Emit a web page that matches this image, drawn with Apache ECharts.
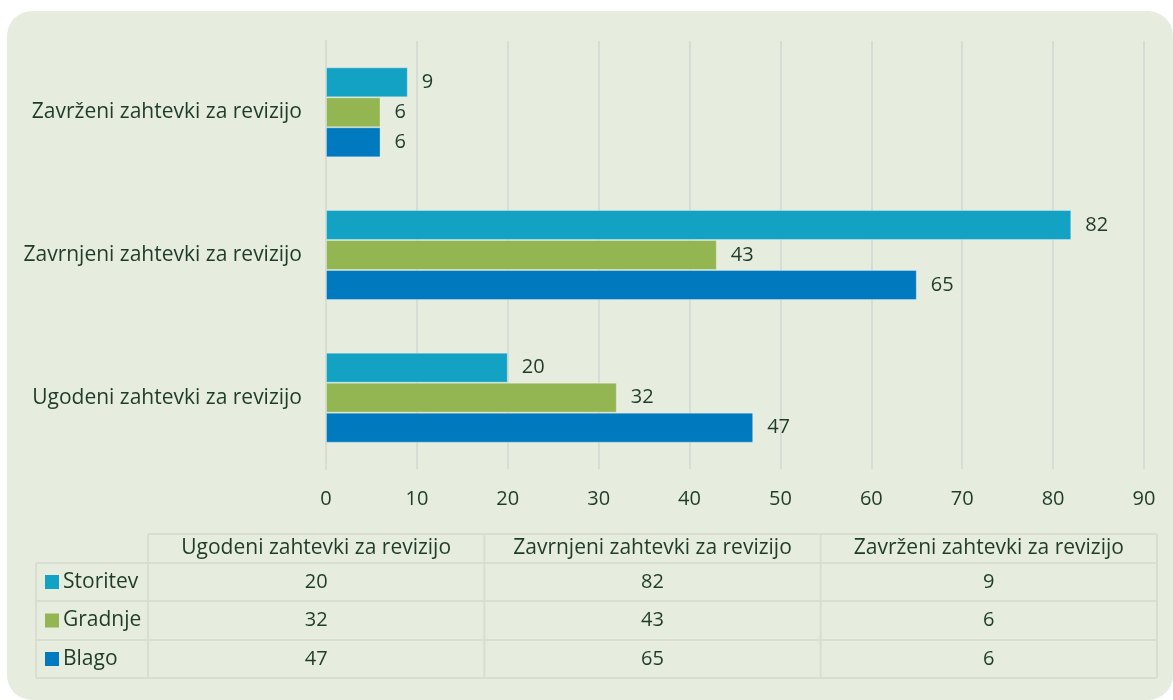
<!DOCTYPE html>
<html>
<head>
<meta charset="utf-8">
<script src="https://cdn.jsdelivr.net/npm/echarts@6/dist/echarts.min.js"></script>
<style>
html,body{margin:0;padding:0;background:#ffffff;}
#chart{width:1173px;height:700px;}
</style>
</head>
<body>
<div id="chart"></div>
<script>
// Data
var categories = ['Ugodeni zahtevki za revizijo', 'Zavrnjeni zahtevki za revizijo', 'Zavrženi zahtevki za revizijo'];
var seriesNames = ['Storitev', 'Gradnje', 'Blago'];
var storitev = [20, 82, 9];
var gradnje = [32, 43, 6];
var blago = [47, 65, 6];
var xTicks = [0, 10, 20, 30, 40, 50, 60, 70, 80, 90];

var colors = {Storitev: '#14a2c4', Gradnje: '#93b653', Blago: '#0179be'};
var textColor = '#1f3b2a';
var font = '"Open Sans", "Noto Sans", sans-serif';
var fsText = 21;
var fsNum = 20;
var values = {Storitev: storitev, Gradnje: gradnje, Blago: blago};

var chart = echarts.init(document.getElementById('chart'), null, {renderer: 'canvas'});

var series = seriesNames.map(function (name) {
  return {
    name: name,
    type: 'bar',
    data: values[name],
    barWidth: 30,
    barGap: '0%',
    itemStyle: {color: colors[name], borderColor: 'rgba(255,255,255,0.3)', borderWidth: 1},
    label: {show: true, position: 'right', distance: 14, color: textColor, fontSize: fsNum, fontFamily: font},
    z: 3
  };
});

// Table built from data arrays
var tableLeft = 148, tableRight = 1157, legendLeft = 36;
var rowYs = [534, 563, 601, 640, 678];
var colW = (tableRight - tableLeft) / categories.length;
var lineColor = '#d9ddd3';
var g = [];
g.push({type: 'rect', shape: {x: 7, y: 11, width: 1166, height: 689, r: 25}, style: {fill: '#e6ecde'}, z: -10});
g.push({type: 'line', shape: {x1: tableLeft, y1: rowYs[0], x2: tableRight, y2: rowYs[0]}, style: {stroke: lineColor, lineWidth: 2}});
for (var r = 1; r < rowYs.length; r++) {
  g.push({type: 'line', shape: {x1: legendLeft, y1: rowYs[r], x2: tableRight, y2: rowYs[r]}, style: {stroke: lineColor, lineWidth: 2}});
}
g.push({type: 'line', shape: {x1: legendLeft, y1: rowYs[1], x2: legendLeft, y2: rowYs[4]}, style: {stroke: lineColor, lineWidth: 2}});
for (var c = 0; c <= categories.length; c++) {
  var x = tableLeft + c * colW;
  g.push({type: 'line', shape: {x1: x, y1: rowYs[0], x2: x, y2: rowYs[4]}, style: {stroke: lineColor, lineWidth: 2}});
}
categories.forEach(function (cat, i) {
  g.push({type: 'text', x: tableLeft + (i + 0.5) * colW, y: (rowYs[0] + rowYs[1]) / 2,
    style: {text: cat, fill: textColor, font: fsText + 'px ' + font, textAlign: 'center', textVerticalAlign: 'middle'}});
});
seriesNames.forEach(function (name, ri) {
  var cy = (rowYs[ri + 1] + rowYs[ri + 2]) / 2;
  g.push({type: 'rect', shape: {x: 45, y: cy - 7, width: 14, height: 14}, style: {fill: colors[name]}});
  g.push({type: 'text', x: 63, y: cy, style: {text: name, fill: textColor, font: fsText + 'px ' + font, textAlign: 'left', textVerticalAlign: 'middle'}});
  values[name].forEach(function (v, ci) {
    g.push({type: 'text', x: tableLeft + (ci + 0.5) * colW, y: cy,
      style: {text: String(v), fill: textColor, font: fsNum + 'px ' + font, textAlign: 'center', textVerticalAlign: 'middle'}});
  });
});

chart.setOption({
  backgroundColor: '#ffffff',
  animation: false,
  grid: {left: 326, right: 29, top: 41, bottom: 231, containLabel: false},
  xAxis: {
    type: 'value', min: xTicks[0], max: xTicks[xTicks.length - 1], interval: 10,
    axisLine: {show: false}, axisTick: {show: false},
    splitLine: {show: true, lineStyle: {color: '#d9dcd5', width: 2}},
    axisLabel: {color: textColor, fontSize: fsNum, fontFamily: font, margin: 20}
  },
  yAxis: {
    type: 'category', data: categories,
    axisLine: {show: true, lineStyle: {color: '#d9dcd5', width: 2}}, axisTick: {show: false},
    axisLabel: {color: textColor, fontSize: fsText, fontFamily: font, margin: 24}
  },
  series: series,
  graphic: g
});
</script>
</body>
</html>
